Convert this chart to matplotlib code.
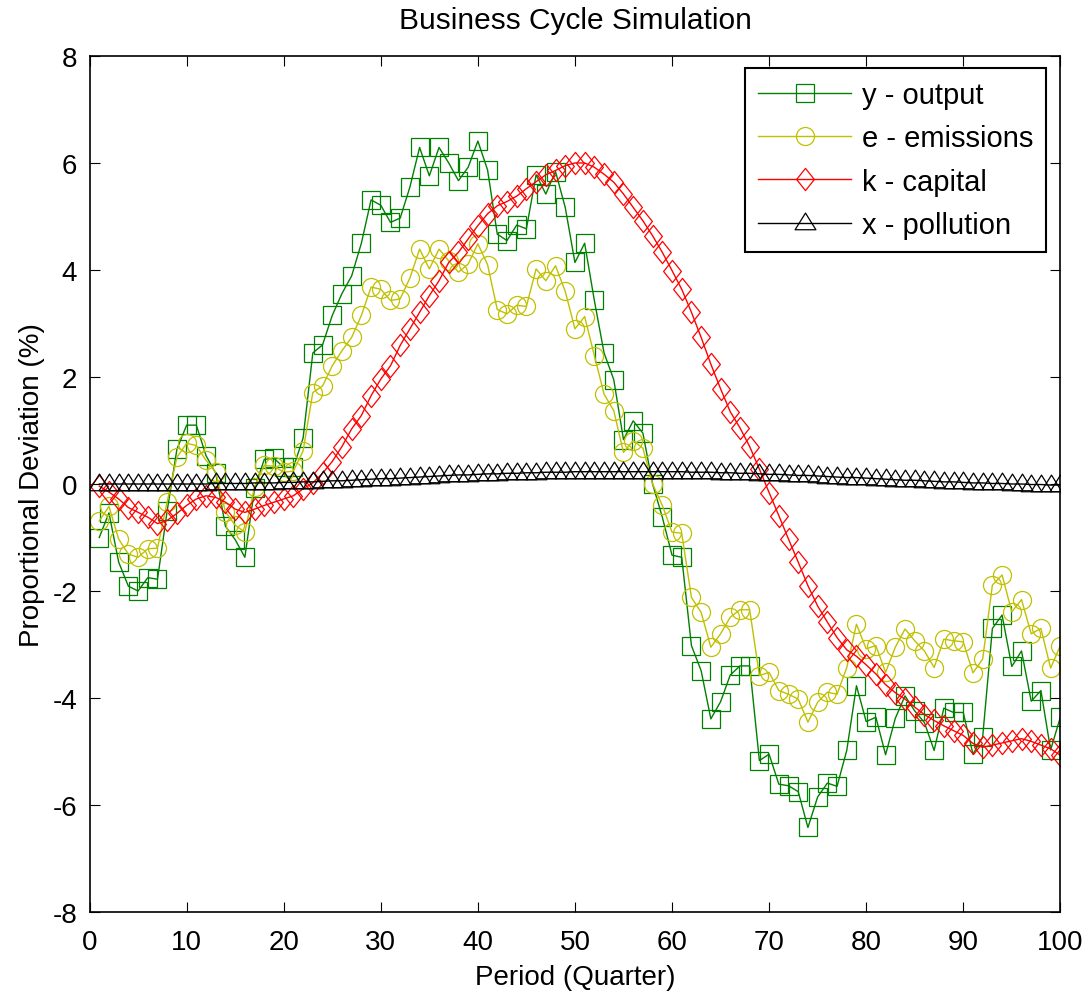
import numpy as np
import matplotlib
matplotlib.use('Agg')
from matplotlib import pyplot as plt
from matplotlib.path import Path

plt.rcParams['font.family'] = ['Liberation Sans', 'DejaVu Sans']
plt.rcParams['axes.unicode_minus'] = False

period = np.arange(1, 101)

output = [-1.00, -0.54, -1.46, -1.91, -2.00, -1.75, -1.78, -0.50, 0.65, 1.10,
          1.10, 0.53, 0.20, -0.79, -1.04, -1.37, -0.08, 0.46, 0.48, 0.31,
          0.31, 0.86, 2.45, 2.60, 3.15, 3.56, 3.89, 4.50, 5.31, 5.21,
          4.89, 4.97, 5.55, 6.29, 5.76, 6.29, 6.00, 5.67, 5.92, 6.41,
          5.87, 4.67, 4.55, 4.84, 4.77, 5.78, 5.42, 5.84, 5.17, 4.14,
          4.50, 3.43, 2.45, 1.95, 0.83, 1.18, 0.95, 0.00, -0.62, -1.33,
          -1.37, -3.02, -3.49, -4.39, -4.07, -3.57, -3.40, -3.40, -5.17, -5.05,
          -5.61, -5.64, -5.75, -6.42, -5.85, -5.59, -5.65, -4.98, -3.77, -4.44,
          -4.36, -5.06, -4.38, -3.96, -4.24, -4.46, -4.98, -4.19, -4.27, -4.27,
          -5.05, -4.73, -2.70, -2.45, -3.41, -3.12, -4.06, -3.86, -4.97, -4.36]

emissions = [-0.69, -0.42, -1.03, -1.31, -1.37, -1.21, -1.20, -0.33, 0.50, 0.76,
             0.72, 0.44, 0.22, -0.52, -0.77, -0.90, -0.05, 0.35, 0.33, 0.22,
             0.24, 0.62, 1.71, 1.83, 2.21, 2.49, 2.74, 3.15, 3.68, 3.64,
             3.43, 3.46, 3.85, 4.39, 4.02, 4.39, 4.17, 3.96, 4.11, 4.49,
             4.10, 3.26, 3.18, 3.34, 3.32, 4.02, 3.80, 4.08, 3.60, 2.90,
             3.13, 2.40, 1.68, 1.37, 0.59, 0.81, 0.67, 0.00, -0.40, -0.90,
             -0.92, -2.12, -2.40, -3.05, -2.80, -2.49, -2.35, -2.35, -3.58, -3.52,
             -3.86, -3.93, -4.02, -4.45, -4.08, -3.89, -3.93, -3.43, -2.62, -3.08,
             -3.02, -3.52, -3.05, -2.71, -2.93, -3.12, -3.43, -2.90, -2.93, -2.95,
             -3.53, -3.27, -1.89, -1.70, -2.39, -2.16, -2.80, -2.70, -3.44, -3.02]

capital = [-0.04, -0.15, -0.28, -0.44, -0.53, -0.62, -0.74, -0.68, -0.55, -0.40,
           -0.28, -0.22, -0.25, -0.34, -0.47, -0.53, -0.47, -0.40, -0.34, -0.28,
           -0.22, -0.09, 0.02, 0.20, 0.42, 0.70, 1.03, 1.28, 1.65, 1.96,
           2.21, 2.59, 2.90, 3.21, 3.52, 3.80, 4.14, 4.33, 4.58, 4.83,
           5.05, 5.20, 5.28, 5.38, 5.52, 5.65, 5.78, 5.86, 5.95, 6.00,
           6.00, 5.92, 5.79, 5.64, 5.42, 5.17, 4.92, 4.64, 4.33, 3.99,
           3.64, 3.21, 2.74, 2.24, 1.78, 1.35, 1.05, 0.70, 0.28, -0.16,
           -0.59, -1.03, -1.46, -1.90, -2.28, -2.58, -2.87, -3.10, -3.22, -3.38,
           -3.55, -3.75, -3.90, -4.02, -4.17, -4.31, -4.42, -4.52, -4.61, -4.70,
           -4.85, -4.92, -4.88, -4.84, -4.80, -4.76, -4.81, -4.88, -4.95, -5.07]

pollution = [0.00, 0.00, 0.00, 0.00, 0.00, 0.00, 0.00, 0.00, 0.00, 0.00,
             0.00, 0.00, 0.01, 0.01, 0.01, 0.01, 0.02, 0.02, 0.02, 0.03,
             0.03, 0.04, 0.04, 0.05, 0.06, 0.06, 0.07, 0.08, 0.09, 0.10,
             0.10, 0.11, 0.12, 0.13, 0.14, 0.15, 0.16, 0.17, 0.17, 0.18,
             0.19, 0.19, 0.20, 0.20, 0.21, 0.21, 0.22, 0.22, 0.22, 0.23,
             0.23, 0.23, 0.23, 0.23, 0.23, 0.23, 0.23, 0.23, 0.23, 0.23,
             0.23, 0.22, 0.22, 0.22, 0.21, 0.21, 0.20, 0.20, 0.19, 0.18,
             0.18, 0.17, 0.16, 0.16, 0.15, 0.14, 0.13, 0.12, 0.12, 0.11,
             0.10, 0.09, 0.08, 0.07, 0.07, 0.06, 0.05, 0.04, 0.04, 0.03,
             0.02, 0.02, 0.01, 0.01, 0.00, 0.00, -0.01, -0.01, -0.02, -0.02]

# matlab style markers: taller diamond, triangle centred lower than its box
diamond = Path([(0, 1), (0.8, 0), (0, -1), (-0.8, 0), (0, 1)], closed=True)
triangle = Path([(0, 1), (-1.0, -0.6), (1.0, -0.6), (0, 1)], closed=True)

fig = plt.figure(figsize=(10.92, 10.03), dpi=100)
ax = fig.add_axes([0.082, 0.0897, 0.889, 0.8535])

ax.plot(period, output, color='#008000', lw=1, marker='s', ms=13,
        mfc='none', mec='#008000', mew=0.9, label='y - output')
ax.plot(period, emissions, color='#c0c000', lw=1, marker='o', ms=13,
        mfc='none', mec='#c0c000', mew=0.9, label='e - emissions')
ax.plot(period, capital, color='#ff0000', lw=1, marker=diamond, ms=16,
        mfc='none', mec='#ff0000', mew=0.9, label='k - capital')
ax.plot(period, pollution, color='black', lw=1, marker=triangle, ms=15,
        mfc='none', mec='black', mew=0.9, label='x - pollution')

ax.set_xlim(0, 100)
ax.set_ylim(-8, 8)
ax.set_xticks(range(0, 101, 10))
ax.set_yticks(range(-8, 9, 2))
ax.tick_params(direction='in', top=True, right=True, length=7, labelsize=20)
ax.tick_params(axis='x', pad=12)
ax.tick_params(axis='y', pad=9)
for s in ax.spines.values():
    s.set_linewidth(1.2)

ax.set_title('Business Cycle Simulation', fontsize=21.5, pad=20)
ax.set_xlabel('Period (Quarter)', fontsize=20, labelpad=7)
ax.set_ylabel('Proportional Deviation (%)', fontsize=20, labelpad=5)

leg = ax.legend(loc='upper right', bbox_to_anchor=(0.958, 0.931),
                bbox_transform=fig.transFigure, fontsize=21, fancybox=False,
                framealpha=1, edgecolor='black', handlelength=3.2,
                handletextpad=0.35, labelspacing=0.52, borderpad=0.45,
                borderaxespad=0)
leg.get_frame().set_linewidth(1.5)

fig.savefig('out.png', dpi=100)
